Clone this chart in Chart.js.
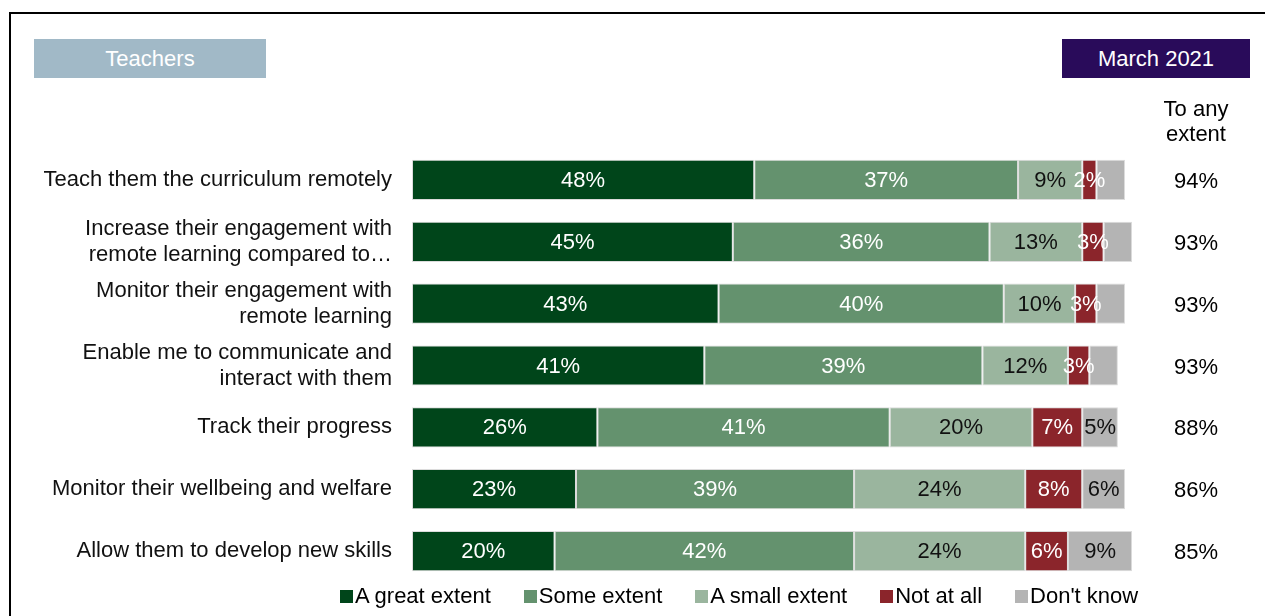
<!DOCTYPE html>
<html>
<head>
<meta charset="utf-8">
<title>Teachers - March 2021</title>
<script src="https://cdn.jsdelivr.net/npm/chart.js@4.4.0/dist/chart.umd.min.js"></script>
<style>
  html, body { margin: 0; padding: 0; background: #fff; }
  body {
    width: 1265px; height: 616px; position: relative; overflow: hidden;
    font-family: "Liberation Sans", Arial, sans-serif;
  }
  .frame {
    position: absolute; left: 9px; top: 12px; right: 0; bottom: -10px;
    border-left: 2px solid #000; border-top: 2px solid #000;
  }
  .tag {
    position: absolute; top: 39px; height: 39px; line-height: 39px;
    color: #fff; font-size: 22px; text-align: center;
  }
  #who { left: 34px; width: 232px; background: #a1b9c7; }
  #when { left: 1062px; width: 188px; background: #290b5a; }
  #chartBox { position: absolute; left: 0; top: 0; width: 1265px; height: 616px; }
  #legend {
    position: absolute; left: 340px; top: 584px; height: 24px;
    display: flex; align-items: center; font-size: 22px; color: #000;
  }
  .item { display: flex; align-items: center; margin-right: 33px; }
  .box { width: 13px; height: 13px; margin-right: 2px; }
</style>
</head>
<body>
<div class="frame"></div>
<div class="tag" id="who">Teachers</div>
<div class="tag" id="when">March 2021</div>
<div id="chartBox"><canvas id="chart"></canvas></div>
<div id="legend"></div>

<script>
const categories = [
  "Teach them the curriculum remotely",
  ["Increase their engagement with", "remote learning compared to…"],
  ["Monitor their engagement with", "remote learning"],
  ["Enable me to communicate and", "interact with them"],
  "Track their progress",
  "Monitor their wellbeing and welfare",
  "Allow them to develop new skills",
];
const seriesNames = ["A great extent", "Some extent", "A small extent", "Not at all", "Don't know"];
const greatExtent = [48, 45, 43, 41, 26, 23, 20];
const someExtent = [37, 36, 40, 39, 41, 39, 42];
const smallExtent = [9, 13, 10, 12, 20, 24, 24];
const notAtAll = [2, 3, 3, 3, 7, 8, 6];
const dontKnow = [4, 4, 4, 4, 5, 6, 9];
const anyExtent = [94, 93, 93, 93, 88, 86, 85];

const colors = ["#00451a", "#64926e", "#9ab59e", "#8b252b", "#b4b4b4"];
const textColors = ["#fff", "#fff", "#111", "#fff", "#111"];
// small "don't know" segments are left unlabelled
const minLabel = [0, 0, 0, 0, 5];
const FONT = '"Liberation Sans", Arial, sans-serif';

const legendEl = document.getElementById("legend");
seriesNames.forEach((name, i) => {
  const item = document.createElement("div");
  item.className = "item";
  item.innerHTML = `<span class="box" style="background:${colors[i]}"></span><span>${name}</span>`;
  legendEl.appendChild(item);
});

const barLabels = {
  id: "barLabels",
  afterDatasetsDraw(chart) {
    const ctx = chart.ctx;
    ctx.save();
    ctx.font = "22px " + FONT;
    ctx.textAlign = "center";
    ctx.textBaseline = "middle";
    chart.data.datasets.forEach((ds, i) => {
      chart.getDatasetMeta(i).data.forEach((bar, j) => {
        const v = ds.data[j];
        if (v < minLabel[i]) return;
        const p = bar.getProps(["x", "y", "base"], true);
        ctx.fillStyle = textColors[i];
        ctx.fillText(v + "%", (p.x + p.base) / 2, p.y + 1);
      });
    });
    // "To any extent" column on the right
    const yScale = chart.scales.y;
    const cx = chart.chartArea.right + 71;
    ctx.fillStyle = "#000";
    ctx.fillText("To any", cx, 110);
    ctx.fillText("extent", cx, 135);
    anyExtent.forEach((v, j) => {
      ctx.fillText(v + "%", cx, yScale.getPixelForValue(j) + 2);
    });
    ctx.restore();
  },
};

const seriesData = [greatExtent, someExtent, smallExtent, notAtAll, dontKnow];

new Chart(document.getElementById("chart").getContext("2d"), {
  type: "bar",
  data: {
    labels: categories,
    datasets: seriesNames.map((name, i) => ({
      label: name,
      data: seriesData[i],
      backgroundColor: colors[i],
      borderColor: "#dcdcdc",
      borderWidth: 1,
      borderSkipped: false,
      categoryPercentage: 1,
      barPercentage: 0.65,
      clip: false,
    })),
  },
  options: {
    indexAxis: "y",
    responsive: true,
    maintainAspectRatio: false,
    animation: false,
    layout: { padding: { top: 149, bottom: 34, right: 140, left: 0 } },
    scales: {
      x: { stacked: true, min: 0, max: 100, display: false },
      y: {
        stacked: true,
        grid: { display: false, drawTicks: false },
        border: { display: false },
        ticks: {
          color: "#111",
          padding: 20,
          autoSkip: false,
          font: { family: FONT, size: 22, lineHeight: 1.18 },
        },
        afterFit(scale) { scale.width = 412; },
      },
    },
    plugins: {
      legend: { display: false },
      tooltip: { enabled: false },
    },
  },
  plugins: [barLabels],
});
</script>
</body>
</html>
